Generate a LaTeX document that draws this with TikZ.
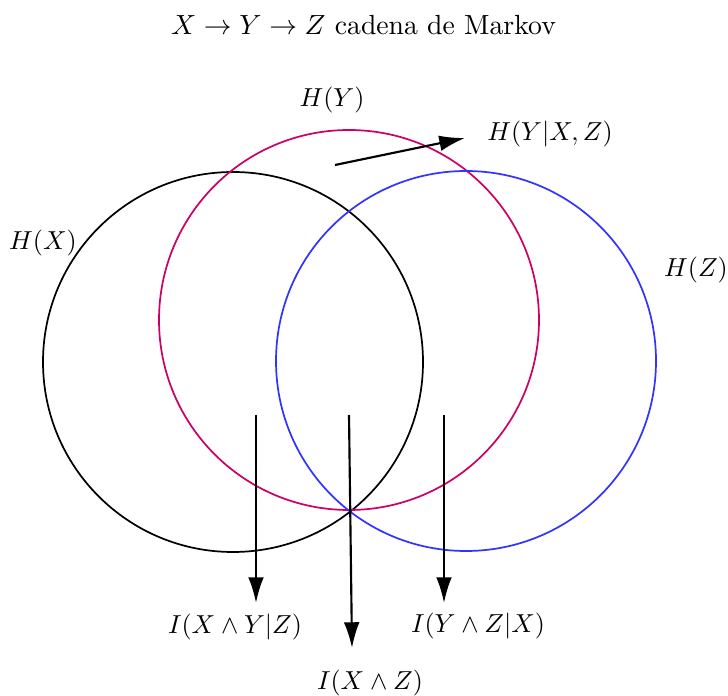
\documentclass[tikz,border=0pt]{standalone}
\usetikzlibrary{arrows.meta}
\definecolor{cx}{RGB}{0,0,0}
\definecolor{cy}{RGB}{204,0,102}
\definecolor{cz}{RGB}{51,51,255}
\begin{document}
\begin{tikzpicture}[x=0.35pt,y=-0.35pt,
  setc/.style={draw,line width=0.6pt},
  arr/.style={line width=0.75pt,-{Latex[length=9pt,width=5.5pt]}},
  lab/.style={inner sep=0pt,scale=0.91}]
\useasboundingbox (0,0) rectangle (728,696);
\node[inner sep=0pt,scale=0.97] (title) at (363.5,25) {$X\rightarrow Y\rightarrow Z$ cadena de Markov};
\draw[setc,cx] (233,362) circle [radius=190];
\draw[setc,cy] (349,320) circle [radius=190];
\draw[setc,cz] (466,361) circle [radius=190];
\node[lab] (hy) at (332,100) {$H(Y)$};
\node[lab] (hyxz) at (550,134) {$H(Y|X,Z)$};
\node[lab] (hx) at (43,243) {$H(X)$};
\node[lab] (hz) at (696,270) {$H(Z)$};
\node[lab] (ixy) at (235,627) {$I(X\wedge Y|Z)$};
\node[lab] (ixz) at (370,683) {$I(X\wedge Z)$};
\node[lab] (iyz) at (478,626) {$I(Y\wedge Z|X)$};
\coordinate (a1s) at (335,165); \coordinate (a1e) at (465,138);
\coordinate (a2s) at (256,415); \coordinate (a2e) at (256,603);
\coordinate (a3s) at (349,415); \coordinate (a3e) at (352,648);
\coordinate (a4s) at (444,415); \coordinate (a4e) at (444,603);
\draw[arr] (a1s) -- (a1e);
\draw[arr] (a2s) -- (a2e);
\draw[arr] (a3s) -- (a3e);
\draw[arr] (a4s) -- (a4e);
\end{tikzpicture}
\end{document}
